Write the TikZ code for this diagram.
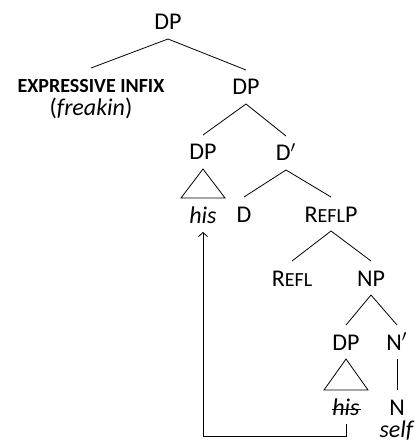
\documentclass[tikz,border=0pt]{standalone}
\usepackage{fontspec}
\setmainfont{Carlito}
\usetikzlibrary{positioning,calc,arrows.meta}
\newcommand{\smallcap}[1]{{\fontsize{10}{11}\selectfont #1}}
\tikzset{
  lbl/.style={inner xsep=1pt, inner ysep=4.3pt, text height=8pt, text depth=0pt,
    font=\fontsize{12}{14}\selectfont},
  move/.style={-{Straight Barb[length=2pt,width=4.5pt]}}
}

\begin{document}
\begin{tikzpicture}[x=0.5pt,y=-0.5pt]
    \useasboundingbox (0,0) rectangle (414,443);

    \node[lbl] (dptop) at (168,22) {DP};
    \node[lbl] (infix) at (91,85) {\smallcap{\textbf{EXPRESSIVE INFIX}}};
    \node[lbl] (freakin) at (91,108) {(\textit{freakin})};
    \node[lbl] (dpmid) at (246,87) {DP};
    \node[lbl] (dpspec) at (203,152) {DP};
    \node[lbl] (dbar) at (286,153) {D$'$};
    \node[lbl] (hisup) at (203,215) {\textit{his}};
    \node[lbl] (dhead) at (244,214) {D};
    \node[lbl] (reflp) at (331,214) {R\smallcap{EFL}P};
    \node[lbl] (refl) at (292,278) {R\smallcap{EFL}};
    \node[lbl] (np) at (371,278) {NP};
    \node[lbl] (dplow) at (346,342) {DP};
    \node[lbl] (nbar) at (397,342) {N$'$};
    \node[lbl] (hislow) at (346,407) {\textit{his}};
    \node[lbl] (nhead) at (397,407) {N};
    \node[lbl] (self) at (397,429) {\textit{self}};

    % branches
    \draw (dptop.south) -- (infix.north);
    \draw (dptop.south) -- (dpmid.north);
    \draw (dpmid.south) -- (dpspec.north);
    \draw (dpmid.south) -- (dbar.north);
    \draw (dbar.south) -- (dhead.north);
    \draw (dbar.south) -- (reflp.north);
    \draw (reflp.south) -- (refl.north);
    \draw (reflp.south) -- (np.north);
    \draw (np.south) -- (dplow.north);
    \draw (np.south) -- (nbar.north);
    \draw (nbar.south) -- (nhead.north);

    % triangles
    \draw (dpspec.south) -- ($(hisup.north)+(-22,0)$) -- ($(hisup.north)+(22,0)$) -- cycle;
    \draw (dplow.south) -- ($(hislow.north)+(-22,0)$) -- ($(hislow.north)+(22,0)$) -- cycle;

    % strike through the copy
    \draw ($(hislow.west)+(2,2)$) -- ($(hislow.east)+(-1,2)$);

    % movement
    \draw[move] (hislow.south) -- ++(0,12) -| (hisup.south);
\end{tikzpicture}
\end{document}
